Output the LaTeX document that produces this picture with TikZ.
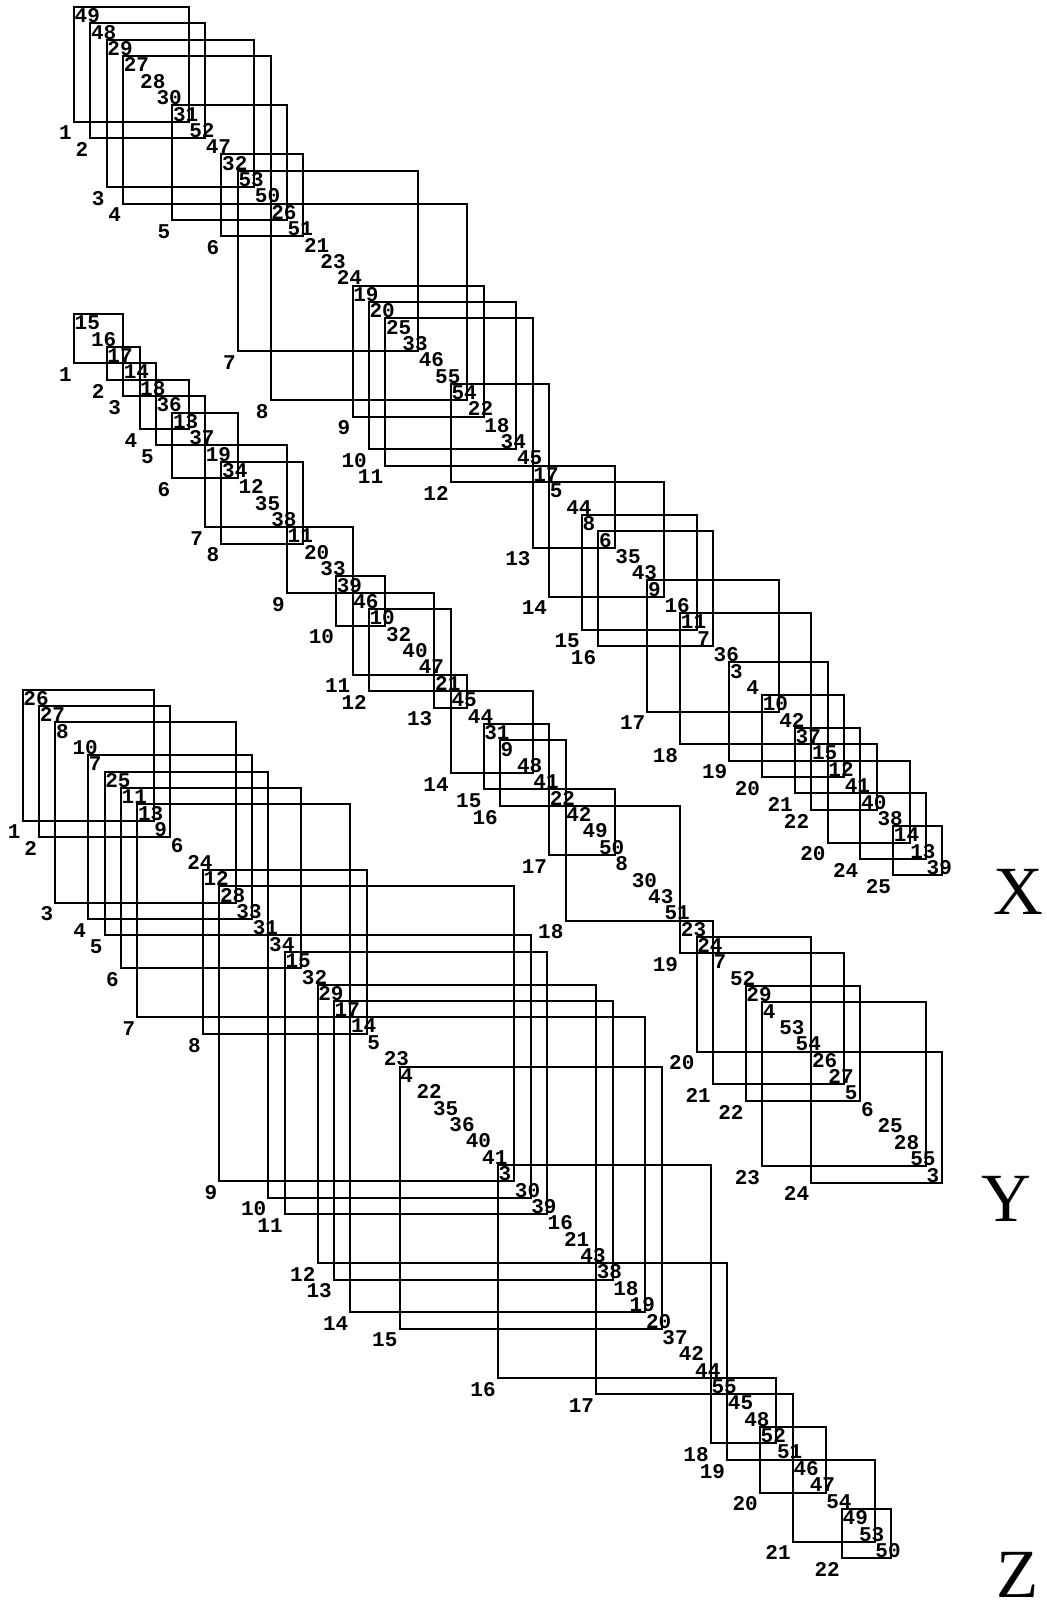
\documentclass[tikz,border=0pt]{standalone}
\usepackage{fontspec}
\setmainfont{Liberation Serif}
\setmonofont{Liberation Mono}
\begin{document}
\begin{tikzpicture}[x=1pt, y=-1pt,
  box/.style={draw, line width=2pt},
  vlab/.style={anchor=north west, inner sep=0pt, font=\fontsize{21}{21}\selectfont\ttfamily\bfseries},
  rlab/.style={anchor=north east, inner sep=0pt, font=\fontsize{21}{21}\selectfont\ttfamily\bfseries},
  grp/.style={anchor=base, inner sep=0pt, font=\fontsize{69}{69}\selectfont}
]
  \useasboundingbox (0,0) rectangle (1046,1602);
  \def\s{16.385}
  % points on the three diagonals
  \foreach \k in {0,...,53} {
    \coordinate (X\k) at ({74+\s*\k},{7+\s*\k});
    \coordinate (Y\k) at ({74+\s*\k},{314.3+\s*\k});
    \coordinate (Z\k) at ({22.7+\s*\k},{689.7+\s*\k});
  }

  % X
  \foreach \v [count=\k from 0] in {49,48,29,27,28,30,31,52,47,32,53,50,26,51,21,23,24,19,20,25,33,46,55,54,22,18,34,45,17,5,44,8,6,35,43,9,16,11,7,36,3,4,10,42,37,15,12,41,40,38,14,13,39}
    \node[vlab] (xv\k) at ([shift={(0.5,1.5)}]X\k) {\v};
  \foreach \a/\b/\n [count=\i] in {0/7/1, 1/8/2, 2/11/3, 3/12/4, 6/13/5, 9/14/6, 10/21/7, 12/24/8, 17/25/9, 18/27/10, 19/28/11, 23/29/12, 28/33/13, 29/36/14, 31/38/15, 32/39/16, 35/43/17, 37/45/18, 40/46/19, 42/47/20, 44/48/21, 45/49/22, 46/51/20, 48/52/24, 50/53/25} {
    \draw[box] (X\a) rectangle (X\b);
    \path (X\a |- X\b) ++(-2,4) node[rlab] (xr\i) {\n};
  }
  \node[grp] (xname) at (1018,914) {X};

  % Y
  \foreach \v [count=\k from 0] in {15,16,17,14,18,36,13,37,19,34,12,35,38,11,20,33,39,46,10,32,40,47,21,45,44,31,9,48,41,22,42,49,50,8,30,43,51,23,24,7,52,29,4,53,54,26,27,5,6,25,28,55,3}
    \node[vlab] (yv\k) at ([shift={(0.5,1.5)}]Y\k) {\v};
  \foreach \a/\b/\n [count=\i] in {0/3/1, 2/4/2, 3/5/3, 4/7/4, 5/8/5, 6/10/6, 8/13/7, 9/14/8, 13/17/9, 16/19/10, 17/22/11, 18/23/12, 22/24/13, 23/28/14, 25/29/15, 26/30/16, 29/33/17, 30/37/18, 37/39/19, 38/45/20, 39/47/21, 41/48/22, 42/52/23, 45/53/24} {
    \draw[box] (Y\a) rectangle (Y\b);
    \path (Y\a |- Y\b) ++(-2,4) node[rlab] (yr\i) {\n};
  }
  \node[grp] (yname) at (1006,1221) {Y};

  % Z
  \foreach \v [count=\k from 0] in {26,27,8,10,7,25,11,13,9,6,24,12,28,33,31,34,15,32,29,17,14,5,23,4,22,35,36,40,41,3,30,39,16,21,43,38,18,19,20,37,42,44,55,45,48,52,51,46,47,54,49,53,50}
    \node[vlab] (zv\k) at ([shift={(0.5,1.5)}]Z\k) {\v};
  \foreach \a/\b/\n [count=\i] in {0/8/1, 1/9/2, 2/13/3, 4/14/4, 5/15/5, 6/17/6, 7/20/7, 11/21/8, 12/30/9, 15/31/10, 16/32/11, 18/35/12, 19/36/13, 20/38/14, 23/39/15, 29/42/16, 35/43/17, 42/46/18, 43/47/19, 45/49/20, 47/52/21, 50/53/22} {
    \draw[box] (Z\a) rectangle (Z\b);
    \path (Z\a |- Z\b) ++(-2,4) node[rlab] (zr\i) {\n};
  }
  \node[grp] (zname) at (1018,1597) {Z};
\end{tikzpicture}
\end{document}
